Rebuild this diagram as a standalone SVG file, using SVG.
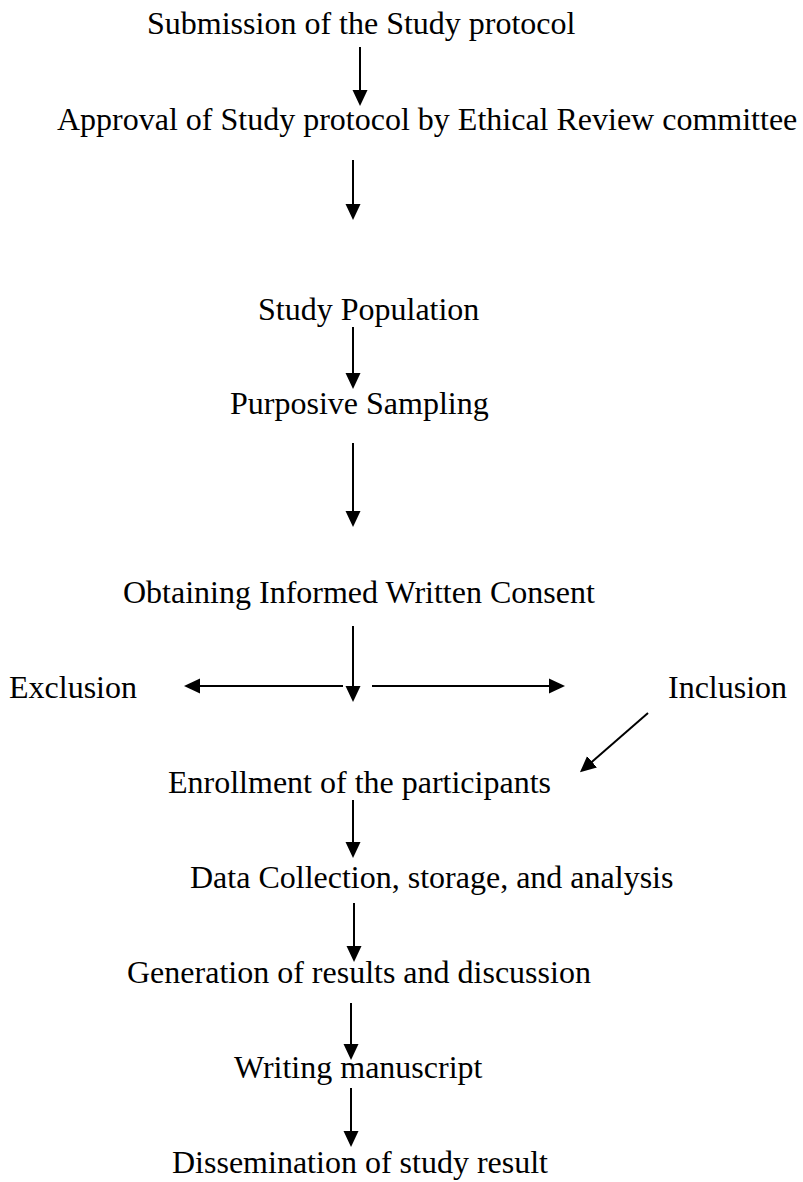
<svg xmlns="http://www.w3.org/2000/svg" width="803" height="1182" viewBox="0 0 803 1182">
<style>
text{font-family:"Liberation Serif","Times New Roman",serif;font-size:32px;fill:#000}
.c line{stroke:#000;stroke-width:2;fill:none;marker-end:url(#ah)}
</style>
<defs>
<marker id="ah" markerUnits="userSpaceOnUse" markerWidth="16" markerHeight="16" refX="8" refY="7.5" orient="auto" viewBox="0 0 16 15">
<path d="M0,0 L16,7.5 L0,15 Z" fill="#000"/>
</marker>
</defs>
<rect width="803" height="1182" fill="#fff"/>
<g id="n1"><text x="147" y="34">Submission of the Study protocol</text></g>
<g id="n2"><text x="57" y="130">Approval of Study protocol by Ethical Review committee</text></g>
<g id="n3"><text x="258" y="320">Study Population</text></g>
<g id="n4"><text x="230" y="414">Purposive Sampling</text></g>
<g id="n5"><text x="123" y="603">Obtaining Informed Written Consent</text></g>
<g id="n6"><text x="9" y="698">Exclusion</text></g>
<g id="n7"><text x="668" y="698">Inclusion</text></g>
<g id="n8"><text x="168" y="793">Enrollment of the participants</text></g>
<g id="n9"><text x="190" y="888">Data Collection, storage, and analysis</text></g>
<g id="n10"><text x="127" y="983">Generation of results and discussion</text></g>
<g id="n11"><text x="234" y="1078">Writing manuscript</text></g>
<g id="n12"><text x="172" y="1173">Dissemination of study result</text></g>
<g id="connectors" class="c">
<line x1="360" y1="47" x2="360" y2="98"/>
<line x1="353" y1="160" x2="353" y2="212"/>
<line x1="353" y1="327" x2="353" y2="381"/>
<line x1="353" y1="443" x2="353" y2="519"/>
<line x1="353" y1="626" x2="353" y2="694"/>
<line x1="343" y1="686" x2="192" y2="686"/>
<line x1="372" y1="686" x2="557" y2="686"/>
<line x1="648" y1="713" x2="586" y2="767"/>
<line x1="353" y1="800" x2="353" y2="850"/>
<line x1="354" y1="903" x2="354" y2="954"/>
<line x1="351" y1="1003" x2="351" y2="1052"/>
<line x1="351" y1="1088" x2="351" y2="1139"/>
</g>
</svg>
